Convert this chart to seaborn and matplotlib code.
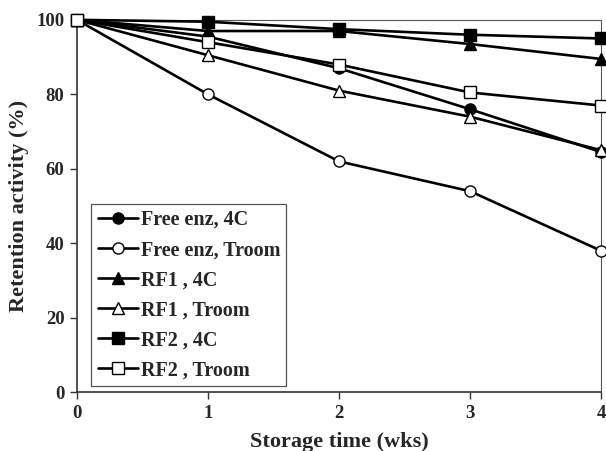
import matplotlib
matplotlib.use("Agg")
import matplotlib.pyplot as plt
import seaborn as sns
import pandas as pd

# Storage stability of free and immobilised enzyme
weeks = [0, 1, 2, 3, 4]
free_4c = [100, 95.5, 87, 76, 64.5]
free_troom = [100, 80, 62, 54, 38]
rf1_4c = [100, 97, 97, 93.5, 89.5]
rf1_troom = [100, 90.5, 81, 74, 65]
rf2_4c = [100, 99.5, 97.5, 96, 95]
rf2_troom = [100, 94, 88, 80.5, 77]

series_labels = ["Free enz, 4C", "Free enz, Troom", "RF1 , 4C",
                 "RF1 , Troom", "RF2 , 4C", "RF2 , Troom"]
series_values = [free_4c, free_troom, rf1_4c, rf1_troom, rf2_4c, rf2_troom]
series_markers = ["o", "o", "^", "^", "s", "s"]
series_filled = [True, False, True, False, True, False]

sns.set_style("ticks")
plt.rcParams["font.family"] = ["Liberation Serif", "DejaVu Serif"]
plt.rcParams["font.weight"] = "bold"

fig = plt.figure(figsize=(6.06, 4.51), dpi=100)
ax = fig.add_axes([0.127, 0.130, 0.865, 0.826])

for label, vals, mk, filled in zip(series_labels, series_values,
                                   series_markers, series_filled):
    df = pd.DataFrame({"week": weeks, "activity": vals})
    sns.lineplot(data=df, x="week", y="activity", ax=ax, color="black",
                 linewidth=1.9, marker=mk, markersize=9.5 if mk != "s" else 9,
                 markerfacecolor="black" if filled else "white",
                 markeredgecolor="black", markeredgewidth=1.0,
                 label=label, clip_on=False, zorder=3)

ax.set_xlim(0, 4)
ax.set_ylim(0, 100)
ax.set_xticks([0, 1, 2, 3, 4])
ax.set_yticks([0, 20, 40, 60, 80, 100])
ax.tick_params(axis="both", labelsize=13.5, length=5, width=1.0,
               color="#333333", pad=4)
for lbl in ax.get_xticklabels() + ax.get_yticklabels():
    lbl.set_fontweight("bold")

for side in ["left", "bottom"]:
    ax.spines[side].set_color("#333333")
    ax.spines[side].set_linewidth(1.2)
for side in ["top", "right"]:
    ax.spines[side].set_color("#555555")
    ax.spines[side].set_linewidth(0.8)

ax.set_xlabel("Storage time (wks)", fontsize=16, fontweight="bold", labelpad=7)
ax.set_ylabel("Retention activity (%)", fontsize=16, fontweight="bold", labelpad=5)

handles, labels = ax.get_legend_handles_labels()
for h in handles:
    h.set_markersize(8)
leg = ax.legend(handles, labels, loc="lower left",
                bbox_to_anchor=(0.02, 0.005), frameon=True, fancybox=False,
                edgecolor="#555555", framealpha=1, handlelength=2.0,
                handletextpad=0.15, labelspacing=0.5, borderpad=0.3,
                borderaxespad=0.2,
                prop={"family": "Liberation Serif", "weight": "bold", "size": 14.5})
leg.get_frame().set_linewidth(0.9)

fig.savefig("out.png", dpi=100)
